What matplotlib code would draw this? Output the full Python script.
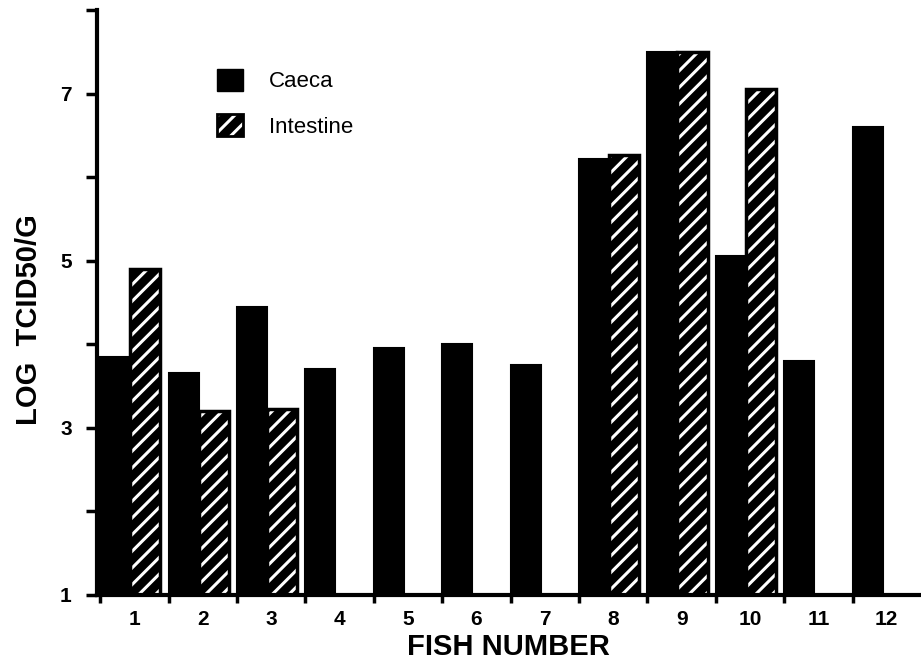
import numpy as np
import matplotlib
matplotlib.use("Agg")
import matplotlib.pyplot as plt
from matplotlib.patches import Patch
from matplotlib.legend_handler import HandlerTuple

plt.rcParams['font.family'] = ['Liberation Sans', 'DejaVu Sans']
plt.rcParams['hatch.linewidth'] = 2.2

fish = list(range(1, 13))
caeca = [3.85, 3.65, 4.45, 3.7, 3.95, 4.0, 3.75, 6.22, 7.5, 5.05, 3.8, 6.6]
intestine = [4.9, 3.2, 3.22, np.nan, np.nan, np.nan, np.nan, 6.27, 7.5, 7.05, np.nan, np.nan]
series_names = ["Caeca", "Intestine"]
y_ticks = [1, 3, 5, 7]
x_label = "FISH NUMBER"
y_label = "LOG  TCID50/G"

fig = plt.figure(figsize=(9.21, 6.69), dpi=100)
ax = fig.add_axes([0.105, 0.111, 0.895, 0.874])

x = np.array(fish, dtype=float)
w = 0.44
base = 1.0
c_heights = np.array(caeca) - base
ax.bar(x - 0.28, c_heights, width=w, bottom=base, color='black', edgecolor='black', linewidth=1.5)

i_arr = np.array(intestine)
mask = ~np.isnan(i_arr)
ax.bar(x[mask] + 0.16, i_arr[mask] - base, width=w, bottom=base, color='black',
       edgecolor='white', hatch='//', linewidth=0)
ax.bar(x[mask] + 0.16, i_arr[mask] - base, width=w, bottom=base, fill=False,
       edgecolor='black', linewidth=2.5)

ax.set_xlim(0.45, 12.5)
ax.set_ylim(1, 8)

for s in ['top', 'right']:
    ax.spines[s].set_visible(False)
ax.spines['left'].set_linewidth(3)
ax.spines['bottom'].set_linewidth(3)

ax.set_yticks(y_ticks)
ax.set_yticklabels([str(v) for v in y_ticks], fontsize=15, fontweight='bold')
ax.set_yticks([2, 4, 6, 8], minor=True)
ax.tick_params(axis='y', which='both', direction='out', length=8, width=2.5, pad=10)

ax.set_xticks(fish)
ax.set_xticklabels([str(f) for f in fish], fontsize=15, fontweight='bold')
ax.tick_params(axis='x', which='major', length=0, pad=11)
ax.set_xticks(np.arange(0.5, 12.5, 1.0), minor=True)
ax.tick_params(axis='x', which='minor', direction='out', length=6, width=2.5)

ax.set_xlabel(x_label, fontsize=21, fontweight='bold', labelpad=3)
ax.set_ylabel(y_label, fontsize=21, fontweight='bold')
ax.yaxis.set_label_coords(-0.065, 0.47)

h1 = Patch(facecolor='black', edgecolor='black')
h2a = Patch(facecolor='black', edgecolor='white', hatch='//', linewidth=0)
h2b = Patch(fill=False, edgecolor='black', linewidth=2)
leg = ax.legend([h1, (h2a, h2b)], series_names, loc='upper left',
                bbox_to_anchor=(0.146, 0.9), frameon=False, fontsize=16,
                handlelength=1.15, handleheight=1.15, handletextpad=1.2,
                labelspacing=1.0, borderpad=0, borderaxespad=0,
                handler_map={tuple: HandlerTuple(ndivide=1, pad=0)})

fig.savefig("out.png", dpi=100)
